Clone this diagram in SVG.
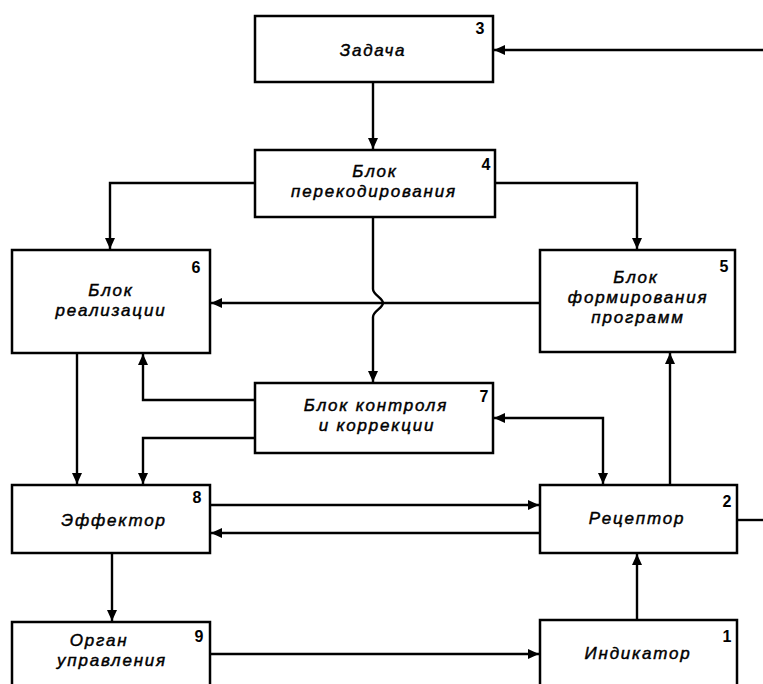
<svg xmlns="http://www.w3.org/2000/svg" width="763" height="684" viewBox="0 0 763 684">
  <style>
    .box { fill: #fff; stroke: #000; stroke-width: 2.5; }
    .lbl { font-family: "Liberation Sans", Arial, sans-serif; font-style: italic; font-size: 17px; letter-spacing: 1.8px; text-anchor: middle; fill: #000; stroke: #000; stroke-width: 0.45; }
    .num { font-family: "Liberation Sans", Arial, sans-serif; font-weight: bold; font-size: 16px; text-anchor: middle; fill: #000; }
    .wire { fill: none; stroke: #000; stroke-width: 2.4; }
  </style>
  <defs>
    <marker id="arrow" markerUnits="userSpaceOnUse" markerWidth="12" markerHeight="10" refX="11" refY="5" orient="auto-start-reverse">
      <path d="M0,0 L11,5 L0,10 Z" fill="#000"/>
    </marker>
  </defs>
  <rect width="763" height="684" fill="#fff"/>

  <g id="connectors">
    <path class="wire" d="M763,50 H494" marker-end="url(#arrow)"/>
    <path class="wire" d="M373,82 V149" marker-end="url(#arrow)"/>
    <path class="wire" d="M255,183 H110 V249" marker-end="url(#arrow)"/>
    <path class="wire" d="M495,183 H637 V249" marker-end="url(#arrow)"/>
    <path class="wire" d="M540,303 H211" marker-end="url(#arrow)"/>
    <!-- line 4 -> 7 hops over the 5 -> 6 line -->
    <path class="wire" d="M373,217 V289 C373,295 383,298 383,303 C383,308 373,311 373,317 V382" marker-end="url(#arrow)"/>
    <path class="wire" d="M255,400 H143 V354" marker-end="url(#arrow)"/>
    <path class="wire" d="M255,438 H143 V484" marker-end="url(#arrow)"/>
    <path class="wire" d="M77,353 V484" marker-end="url(#arrow)"/>
    <path class="wire" d="M494,418 H603 V484" marker-start="url(#arrow)" marker-end="url(#arrow)"/>
    <path class="wire" d="M670,485 V353" marker-end="url(#arrow)"/>
    <path class="wire" d="M210,505 H539" marker-end="url(#arrow)"/>
    <path class="wire" d="M540,533 H211" marker-end="url(#arrow)"/>
    <path class="wire" d="M737,520 H763"/>
    <path class="wire" d="M112,553 V621" marker-end="url(#arrow)"/>
    <path class="wire" d="M210,654 H539" marker-end="url(#arrow)"/>
    <path class="wire" d="M637,620 V554" marker-end="url(#arrow)"/>
  </g>

  <g id="node3">
    <rect class="box" x="255" y="16" width="238" height="66"/>
    <text class="lbl" x="373" y="56">Задача</text>
    <text class="num" x="480" y="34">3</text>
  </g>
  <g id="node4">
    <rect class="box" x="255" y="150" width="240" height="67"/>
    <text class="lbl" x="375" y="177">Блок</text>
    <text class="lbl" x="374" y="197">перекодирования</text>
    <text class="num" x="486" y="170">4</text>
  </g>
  <g id="node6">
    <rect class="box" x="12" y="250" width="198" height="103"/>
    <text class="lbl" x="111" y="296">Блок</text>
    <text class="lbl" x="111" y="316">реализации</text>
    <text class="num" x="196" y="273">6</text>
  </g>
  <g id="node5">
    <rect class="box" x="540" y="250" width="195" height="102"/>
    <text class="lbl" x="636" y="283">Блок</text>
    <text class="lbl" x="638" y="303">формирования</text>
    <text class="lbl" x="638" y="323">программ</text>
    <text class="num" x="724" y="272">5</text>
  </g>
  <g id="node7">
    <rect class="box" x="255" y="383" width="238" height="70"/>
    <text class="lbl" x="376" y="411">Блок контроля</text>
    <text class="lbl" x="377" y="431">и коррекции</text>
    <text class="num" x="484" y="402">7</text>
  </g>
  <g id="node8">
    <rect class="box" x="12" y="485" width="198" height="68"/>
    <text class="lbl" x="114" y="526">Эффектор</text>
    <text class="num" x="197" y="503">8</text>
  </g>
  <g id="node2">
    <rect class="box" x="540" y="485" width="197" height="68"/>
    <text class="lbl" x="637" y="524">Рецептор</text>
    <text class="num" x="727" y="507">2</text>
  </g>
  <g id="node9">
    <rect class="box" x="12" y="622" width="198" height="80"/>
    <text class="lbl" x="99" y="646">Орган</text>
    <text class="lbl" x="112" y="666">управления</text>
    <text class="num" x="199" y="642">9</text>
  </g>
  <g id="node1">
    <rect class="box" x="540" y="620" width="197" height="82"/>
    <text class="lbl" x="638" y="659">Индикатор</text>
    <text class="num" x="727" y="642">1</text>
  </g>
</svg>
